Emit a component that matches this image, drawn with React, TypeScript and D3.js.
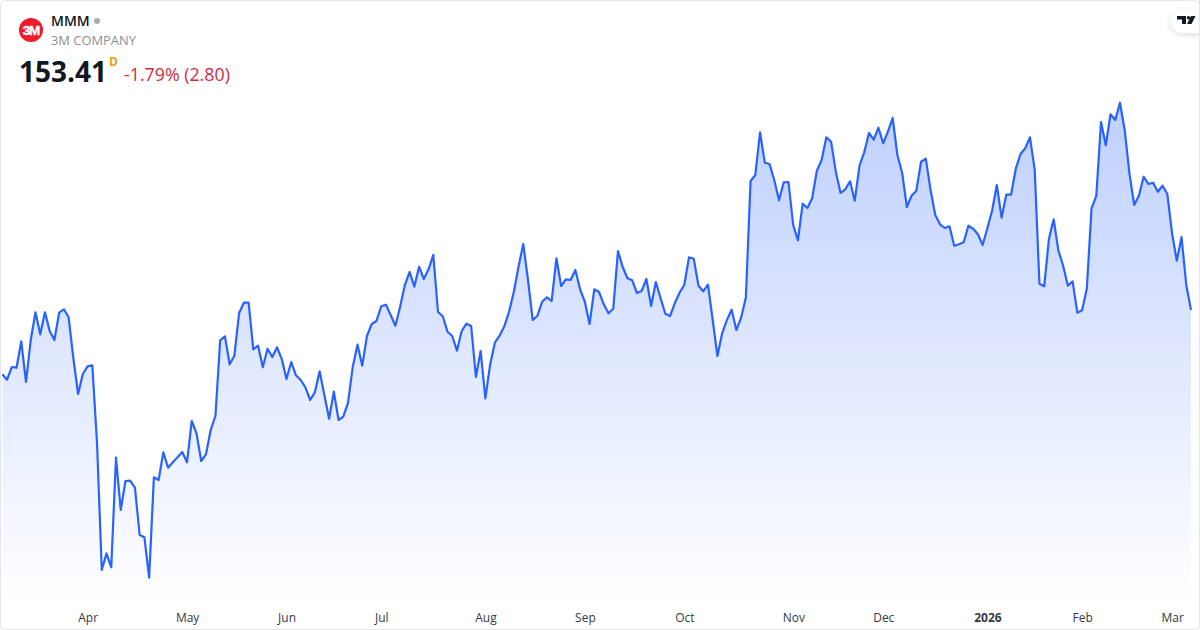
import React from "react";
import * as d3 from "d3";

const closes = [
146.97,146.43,147.7,147.63,150.27,146.2,150.4,153.17,150.97,153.17,151.3,150.4,153.13,153.47,152.67,148.57,145.0,147.0,147.77,147.87,
140.07,127.4,129.07,127.67,138.63,133.4,136.3,136.33,135.63,130.9,130.67,126.63,136.67,136.4,139.17,137.63,138.17,138.67,139.2,138.17,
142.3,141.07,138.3,138.97,141.4,142.8,150.37,150.77,147.97,148.83,153.1,154.13,154.13,149.47,149.83,147.67,149.53,148.7,149.67,148.5,
146.5,148.2,146.87,146.4,145.67,144.4,145.17,147.27,144.9,142.53,145.23,142.4,142.73,144.13,147.73,149.93,147.83,150.8,152.0,152.3,
153.77,153.93,152.9,151.83,153.73,155.9,157.2,155.73,157.73,156.5,157.47,158.9,153.2,152.77,151.23,150.8,149.33,151.3,152.03,151.8,
146.7,149.3,144.57,147.93,150.13,150.83,151.77,153.23,155.2,157.73,160.0,156.4,152.4,152.83,154.23,154.67,154.3,158.57,155.8,156.47,
156.4,157.4,155.47,154.23,152.0,155.47,155.2,153.97,153.07,153.53,159.3,157.7,156.57,156.37,155.1,155.3,156.5,153.8,156.2,154.57,
153.03,152.8,154.07,155.13,155.9,158.67,158.53,155.83,155.27,155.93,152.4,148.8,151.07,152.4,153.43,151.4,152.63,154.63,166.3,166.9,
171.17,168.13,168.0,166.4,164.37,166.17,166.2,161.9,160.37,164.03,163.6,164.57,167.33,168.4,170.67,170.23,167.23,165.1,165.47,166.27,
164.33,167.83,169.17,171.1,170.43,171.63,170.07,171.23,172.6,168.9,167.13,163.7,164.83,165.33,168.23,168.53,165.4,162.9,161.97,161.6,
161.77,159.83,159.97,160.17,161.83,161.53,160.97,159.9,161.57,163.33,165.9,162.63,164.93,164.93,167.53,169.0,169.57,170.67,167.4,156.03,
155.77,160.5,162.47,159.33,157.83,155.83,156.27,153.13,153.37,155.53,163.57,164.8,172.2,169.87,172.97,172.4,174.13,171.4,167.07,163.9,
164.83,166.73,166.0,166.13,165.23,165.83,165.0,161.07,158.33,160.7,155.9,153.41,
];

const tickLabels = ["Apr", "May", "Jun", "Jul", "Aug", "Sep", "Oct", "Nov", "Dec", "2026", "Feb", "Mar"];
const tickIndexes = [18, 39, 60, 80, 102, 123, 144, 167, 186, 208, 228, 247];
const boldTicks = ["2026"];

const symbol = "MMM";
const company = "3M COMPANY";
const lastPrice = "153.41";
const change = "-1.79% (2.80)";

const font = "'Open Sans', sans-serif";
const lineColor = "#2962FF";

export default function App() {
  const x = d3.scaleLinear().domain([0, closes.length - 1]).range([2.33, 1191]);
  const y = d3.scaleLinear().domain([184.4, 121.4]).range([0, 630]);
  const pts = closes.map((v, i) => [x(i), y(v)] as [number, number]);
  const line = d3.line()(pts) as string;
  const area = d3.area().x((d: any) => d[0]).y1((d: any) => d[1]).y0(602)(pts) as string;

  return (
    <svg
      width={1200}
      height={630}
      viewBox="0 0 1200 630"
      style={{ position: "fixed", left: 0, top: 0, display: "block" }}
    >
      <defs>
        <linearGradient id="fill" gradientUnits="userSpaceOnUse" x1="0" y1="100" x2="0" y2="602">
          <stop offset="0" stopColor="#2962FF" stopOpacity={0.3} />
          <stop offset="1" stopColor="#2962FF" stopOpacity={0} />
        </linearGradient>
        <filter id="pill" x="-40%" y="-40%" width="180%" height="180%">
          <feDropShadow dx="0" dy="2" stdDeviation="3" floodColor="#000" floodOpacity="0.13" />
        </filter>
      </defs>
      <rect width={1200} height={630} fill="#fff" />
      <path d={area} fill="url(#fill)" />
      <path d={line} fill="none" stroke={lineColor} strokeWidth={2.2} strokeLinejoin="round" />
      <rect x={0.5} y={0.5} width={1199} height={629} rx={4} fill="none" stroke="#E4E6EC" strokeWidth={1} />

      <circle cx={31} cy={30} r={12} fill="#EC1C2E" />
      <text x={31} y={34.8} textAnchor="middle" fontFamily="'Liberation Sans', sans-serif" fontWeight={700} fontSize={13.5} letterSpacing={-1.2} stroke="#fff" strokeWidth={0.4} fill="#fff">3M</text>
      <text x={51} y={26} fontFamily={font} fontWeight={600} fontSize={14} fill="#131722">{symbol}</text>
      <circle cx={97} cy={21} r={3} fill="#A8ABB3" />
      <text x={51} y={45} fontFamily={font} fontSize={12.9} fill="#8B8F99">{company}</text>
      <text x={19} y={82} fontFamily={font} fontWeight={700} fontSize={28} fill="#131722">{lastPrice}</text>
      <text x={109} y={65.5} fontFamily={font} fontWeight={700} fontSize={12} fill="#F59C0B">D</text>
      <text x={124} y={81} fontFamily={font} fontSize={17.8} fill="#CC2F3C">{change}</text>

      <rect x={1171} y={9} width={40} height={24} rx={12} fill="#fff" filter="url(#pill)" />
      <rect x={1199} y={0} width={1} height={40} fill="#E4E6EC" />
      <path d="M1177 16h9v8h-4v-4.5h-5zM1191 16h4.5l-4 8h-4.5z" fill="#131722" />
      <circle cx={1188.5} cy={17.7} r={1.7} fill="#131722" />

      {tickLabels.map((t, i) => (
        <text
          key={t}
          x={x(tickIndexes[i]) + 0.6}
          y={622}
          textAnchor="middle"
          fontFamily={font}
          fontSize={12}
          fontWeight={boldTicks.includes(t) ? 700 : 400}
          fill="#363A45"
        >
          {t}
        </text>
      ))}
    </svg>
  );
}
